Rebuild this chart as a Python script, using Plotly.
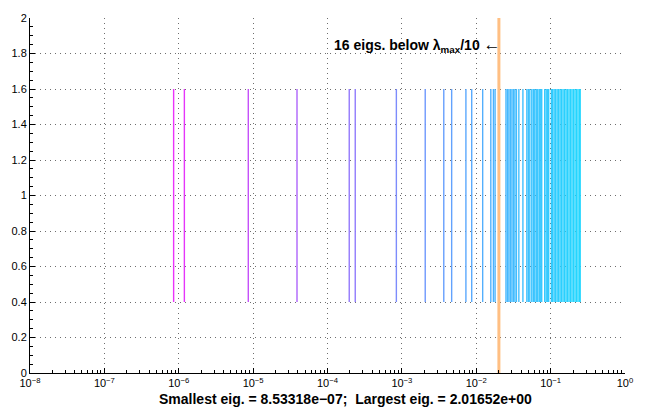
import numpy as np
import plotly.graph_objects as go

# Eigenvalues (log-spaced spectrum), smallest to largest
eigs = [
    8.53318e-07, 1.19e-06, 8.61e-06, 3.89e-05, 1.96e-04, 2.36e-04, 8.43e-04,
    2.06e-03, 3.66e-03, 4.67e-03, 7.26e-03, 8.69e-03, 1.22e-02, 1.57e-02,
    1.70e-02, 1.79e-02,
    0.0251, 0.0263, 0.0275, 0.0288, 0.0302, 0.0316, 0.0331, 0.0347, 0.0374,
    0.0424, 0.0479, 0.0501, 0.0525, 0.0558, 0.0585, 0.0612, 0.0641, 0.0671,
    0.0703, 0.0725, 0.0759, 0.0833, 0.0872, 0.0914, 0.0942, 0.1023, 0.1065,
    0.1115, 0.1168, 0.1223, 0.1280, 0.1340, 0.1403, 0.1469, 0.1540, 0.1613,
    0.1689, 0.1768, 0.1852, 0.1939, 0.2030, 0.2128, 0.2228, 0.2333, 0.2443,
    0.2495,
]
threshold = 0.0201652
n_below = 16
smallest_eig = 8.53318e-07
largest_eig = 2.01652e+00

bar_lo, bar_hi = 0.4, 1.6

x_tick_vals = [10.0 ** k for k in range(-8, 1)]
x_tick_text = ["10<sup>%s</sup>" % (str(k).replace("-", "−")) for k in range(-8, 1)]
y_tick_vals = [round(0.2 * i, 1) for i in range(11)]
y_tick_text = ["0", "0.2", "0.4", "0.6", "0.8", "1", "1.2", "1.4", "1.6", "1.8", "2"]

minor_x = [m * 10.0 ** k for k in range(-8, 0) for m in range(2, 10)]

# colour runs from magenta (smallest) to cyan (largest) along log10(eig)
c0 = np.array([235, 50, 250])
c1 = np.array([35, 215, 255])
lg = np.log10(eigs)
tt = (lg - lg.min()) / (lg.max() - lg.min())

fig = go.Figure()
for v, t in zip(eigs, tt):
    c = (c0 + (c1 - c0) * t).astype(int)
    fig.add_trace(go.Scatter(
        x=[v, v], y=[bar_lo, bar_hi], mode="lines",
        line=dict(color="rgb(%d,%d,%d)" % tuple(c), width=1.4),
        showlegend=False, hoverinfo="x",
    ))

fig.add_trace(go.Scatter(
    x=[threshold, threshold], y=[0, 2], mode="lines",
    line=dict(color="rgba(255,170,90,0.75)", width=3),
    showlegend=False, hoverinfo="x",
))

bold_font = dict(family="Liberation Sans, Arial, sans-serif", size=14, color="black")

fig.add_annotation(
    x=np.log10(threshold), y=1.85, xref="x", yref="y",
    text=("<b>%d eigs. below λ<sub>max</sub>/10</b> "
          "<span style='font-size:17px'>←</span>") % n_below,
    showarrow=False, xanchor="right", yanchor="middle", xshift=4,
    font=bold_font,
)

smin = ("%.5e" % smallest_eig).replace("-", "−")
smax = ("%.5e" % largest_eig).replace("-", "−")
fig.add_annotation(
    x=0.53, y=-0.072, xref="paper", yref="paper",
    text="<b>Smallest eig. = %s;  Largest eig. = %s</b>" % (smin, smax),
    showarrow=False, xanchor="center", yanchor="middle",
    font=bold_font,
)

axis_font = dict(family="Liberation Sans, Arial, sans-serif", size=11, color="black")
grid_col = "rgb(110,110,110)"

fig.update_xaxes(
    type="log", range=[-8, 0],
    tickmode="array", tickvals=x_tick_vals, ticktext=x_tick_text,
    ticks="inside", ticklen=5, tickcolor="black", tickwidth=1,
    showline=True, linecolor="black", linewidth=1,
    showgrid=True, gridcolor=grid_col, griddash="1px,4px", gridwidth=1,
    minor=dict(tickmode="array", tickvals=minor_x, ticks="inside", ticklen=3,
               tickcolor="black", showgrid=False),
    zeroline=False, tickfont=axis_font,
)

fig.update_yaxes(
    range=[0, 2],
    tickmode="array", tickvals=y_tick_vals, ticktext=y_tick_text,
    ticks="inside", ticklen=5, tickcolor="black", tickwidth=1,
    showline=True, linecolor="black", linewidth=1,
    showgrid=True, gridcolor=grid_col, griddash="1px,4px", gridwidth=1,
    minor=dict(dtick=0.05, ticks="inside", ticklen=3, tickcolor="black",
               showgrid=False),
    zeroline=False, tickfont=axis_font,
)

fig.update_layout(
    width=645, height=415,
    margin=dict(l=28, r=18, t=13, b=42),
    paper_bgcolor="white", plot_bgcolor="white",
    font=axis_font,
)

fig.write_html("out.html")
